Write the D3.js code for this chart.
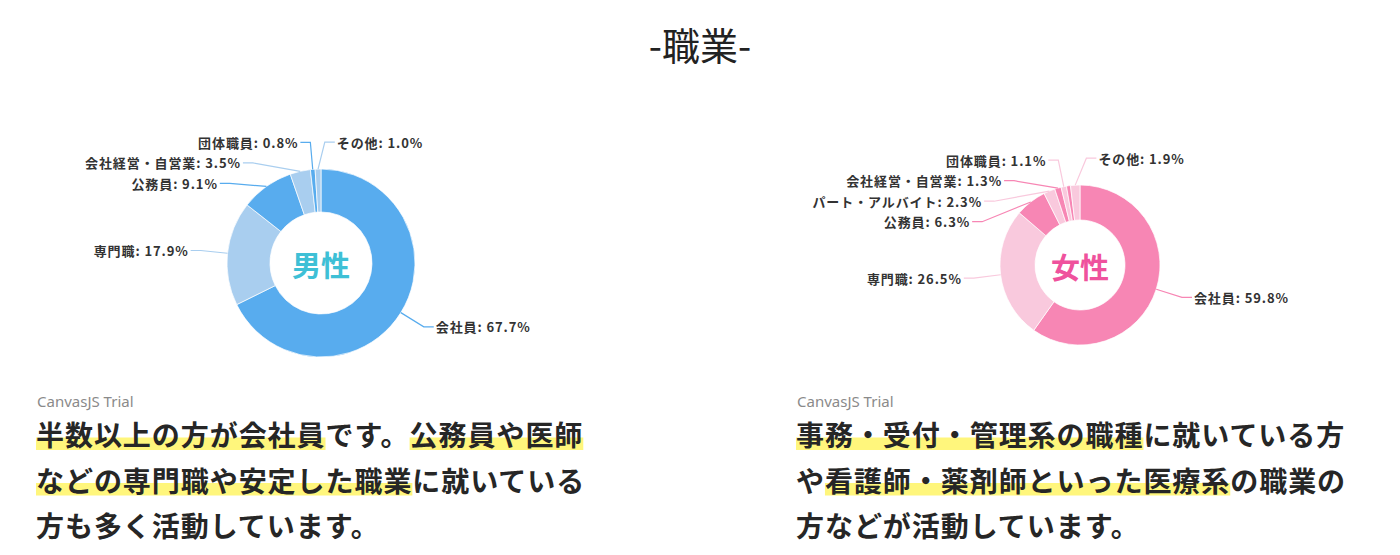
<!DOCTYPE html>
<html lang="ja">
<head>
<meta charset="utf-8">
<script src="https://cdn.jsdelivr.net/npm/d3@7"></script>
<style>
  body { margin: 0; background: #fff; }
  svg { display: block; font-family: "Noto Sans CJK JP", "Noto Sans", sans-serif; }
</style>
</head>
<body>
<svg id="chart" width="1400" height="555"></svg>
<script>
// data
const titleText = "-職業-";

const maleLabels = ["会社員", "専門職", "公務員", "会社経営・自営業", "団体職員", "その他"];
const maleValues = [67.7, 17.9, 9.1, 3.5, 0.8, 1.0];

// the 0.8% sliver between 団体職員 and その他 has no label in the original
const femaleLabels = ["会社員", "専門職", "公務員", "パート・アルバイト", "会社経営・自営業", "団体職員", "", "その他"];
const femaleValues = [59.8, 26.5, 6.3, 2.3, 1.3, 1.1, 0.8, 1.9];

const maleColors = ["#58acee", "#a9ceef"];
const femaleColors = ["#f786b4", "#f9c9dd"];

// paragraph lines, [text, highlighted?]
const maleText = [
  [["半数以上の方が会社員", true], ["です。", false], ["公務員や医師", true]],
  [["などの専門職や安定した職業", true], ["に就いている", false]],
  [["方も多く活動しています。", false]]
];
const femaleText = [
  [["事務・受付・管理系の職種", true], ["に就いている方", false]],
  [["や", false], ["看護師・薬剤師といった医療系", true], ["の職業の", false]],
  [["方などが活動しています。", false]]
];

const svg = d3.select("#chart");

svg.append("text")
  .attr("x", 700)
  .attr("y", 43)
  .attr("text-anchor", "middle")
  .attr("dominant-baseline", "central")
  .attr("font-size", 38)
  .attr("fill", "#222")
  .text(titleText);

function donut(cx, cy, r, rIn, labels, values, colors, centerText, centerColor) {
  const g = svg.append("g").attr("transform", `translate(${cx},${cy})`);
  const pie = d3.pie().sort(null)(values);
  const arc = d3.arc().innerRadius(rIn).outerRadius(r);

  g.selectAll("path.slice")
    .data(pie)
    .join("path")
    .attr("class", "slice")
    .attr("d", arc)
    .attr("fill", (d, i) => colors[i % 2])
    .attr("stroke", "#fff")
    .attr("stroke-width", 0.7);

  // label layout, roughly how canvasjs does it: point on a bigger circle,
  // then push down so labels on one side don't overlap
  const R = r + 27;
  const items = pie
    .map((d, i) => ({ name: labels[i], v: values[i], i, mid: (d.startAngle + d.endAngle) / 2 }))
    .filter(d => d.name);
  items.forEach(d => {
    d.side = (d.mid < Math.PI || d.mid > 2 * Math.PI - 0.075) ? 1 : -1;
    d.y = -Math.cos(d.mid) * R;
  });
  [1, -1].forEach(s => {
    const side = items.filter(d => d.side === s).sort((a, b) => a.y - b.y);
    side.forEach((d, k) => {
      if (k > 0) d.y = Math.max(d.y, side[k - 1].y + 20.5);
    });
  });
  items.forEach(d => {
    d.x = d.side * Math.sqrt(Math.max(0, R * R - d.y * d.y));
  });

  g.selectAll("polyline.leader")
    .data(items)
    .join("polyline")
    .attr("class", "leader")
    .attr("fill", "none")
    .attr("stroke", d => colors[d.i % 2])
    .attr("stroke-width", 1.2)
    .attr("points", d => {
      const sx = Math.sin(d.mid) * r, sy = -Math.cos(d.mid) * r;
      return [[sx, sy], [d.x, d.y], [d.x + d.side * 10, d.y]].join(" ");
    });

  g.selectAll("text.lbl")
    .data(items)
    .join("text")
    .attr("class", "lbl")
    .attr("x", d => d.x + d.side * 12)
    .attr("y", d => d.y)
    .attr("text-anchor", d => d.side > 0 ? "start" : "end")
    .attr("dominant-baseline", "central")
    .attr("font-size", 13)
    .attr("letter-spacing", 0.9)
    .attr("font-weight", 700)
    .attr("fill", "#333")
    .text(d => `${d.name}: ${d.v.toFixed(1)}%`);

  g.append("text")
    .attr("x", 0)
    .attr("y", 1)
    .attr("text-anchor", "middle")
    .attr("dominant-baseline", "central")
    .attr("font-size", 29)
    .attr("font-weight", 700)
    .attr("fill", centerColor)
    .text(centerText);
}

donut(321, 263, 94, 51, maleLabels, maleValues, maleColors, "男性", "#3ec0d6");
donut(1080, 265, 80, 45, femaleLabels, femaleValues, femaleColors, "女性", "#ef529d");

function paragraph(x0, lines) {
  svg.append("text")
    .attr("x", x0 + 1)
    .attr("y", 407)
    .attr("font-family", "'Noto Sans', sans-serif")
    .attr("font-size", 15)
    .attr("fill", "#8a8a8a")
    .text("CanvasJS Trial");

  const lineY = [434, 479.5, 525];
  lines.forEach((segs, li) => {
    const g = svg.append("g");
    const hl = g.append("g");
    let x = x0;
    segs.forEach(([t, on]) => {
      const txt = g.append("text")
        .attr("x", x)
        .attr("y", lineY[li])
        .attr("dominant-baseline", "central")
        .attr("font-size", 28)
        .attr("letter-spacing", 0.95)
        .attr("font-weight", 700)
        .attr("fill", "#262626")
        .text(t);
      const w = txt.node().getComputedTextLength();
      if (on) {
        hl.append("rect")
          .attr("x", x)
          .attr("y", lineY[li] + 3.5)
          .attr("width", w)
          .attr("height", 12.5)
          .attr("fill", "#fff67c");
      }
      x += w;
    });
  });
}

paragraph(36, maleText);
paragraph(796, femaleText);
</script>
</body>
</html>
